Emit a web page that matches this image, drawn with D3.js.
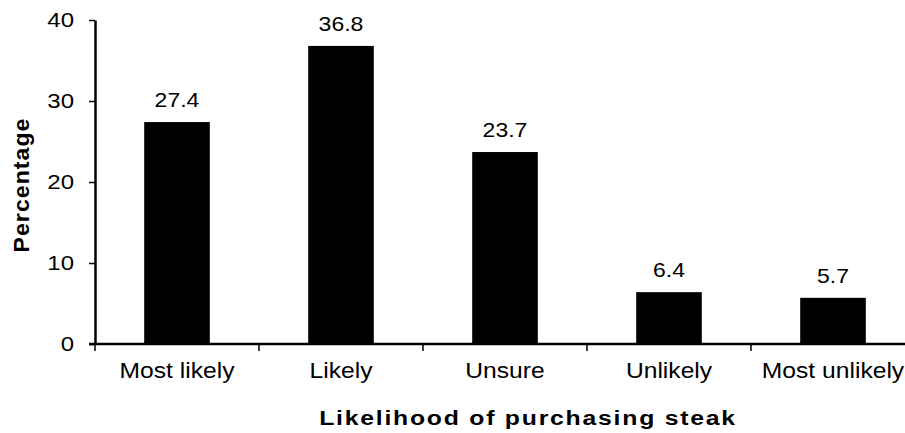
<!DOCTYPE html>
<html>
<head>
<meta charset="utf-8">
<script src="https://cdn.jsdelivr.net/npm/d3@7"></script>
<style>
  html, body { margin: 0; padding: 0; background: #fff; }
  svg { display: block; }
  text { font-family: "Liberation Sans", Arial, sans-serif; fill: #000; }
</style>
</head>
<body>
<svg id="chart" width="905" height="433"></svg>
<script>
const categories = ["Most likely", "Likely", "Unsure", "Unlikely", "Most unlikely"];
const values = [27.4, 36.8, 23.7, 6.4, 5.7];
const yTicks = [0, 10, 20, 30, 40];
const xTitle = "Likelihood of purchasing steak";
const yTitle = "Percentage";

(function () {
const svg = d3.select("#chart");
const mLeft = 95, mRight = 915, mTop = 20, mBottom = 344;

const x = d3.scaleBand().domain(categories).range([mLeft, mRight])
  .paddingInner(0.6).paddingOuter(0.3);
const y = d3.scaleLinear().domain([0, 40]).range([mBottom, mTop]);
const step = x.step();

// bars
svg.append("g").selectAll("rect").data(values).join("rect")
  .attr("x", (d, i) => x(categories[i]))
  .attr("y", d => y(d))
  .attr("width", x.bandwidth())
  .attr("height", d => y(0) - y(d))
  .attr("fill", "#000");

// value labels (glyphs slightly widened like the reference)
svg.append("g").selectAll("text").data(values).join("text")
  .attr("transform", (d, i) => `translate(${x(categories[i]) + x.bandwidth() / 2},${y(d) - 15}) scale(1.15,1)`)
  .attr("text-anchor", "middle")
  .style("font-size", "20px")
  .text(d => d.toFixed(1));

// y axis
const yAxis = d3.axisLeft(y).tickValues(yTicks).tickSize(6).tickPadding(15).tickSizeOuter(0);
const gy = svg.append("g").attr("transform", `translate(${mLeft},0)`).call(yAxis);
gy.select(".domain").attr("stroke", "#000").attr("stroke-width", 2.5);
gy.selectAll(".tick line").attr("stroke", "#000").attr("stroke-width", 1.5);
gy.selectAll(".tick text")
  .attr("transform", function () { return `translate(${d3.select(this).attr("x")},0) scale(1.2,1)`; })
  .attr("x", 0)
  .style("font-size", "20px")
  .style("font-family", "'Liberation Sans', Arial, sans-serif").attr("fill", "#000");

// x axis line
svg.append("line").attr("x1", mLeft - 6).attr("x2", 905).attr("y1", mBottom).attr("y2", mBottom)
  .attr("stroke", "#000").attr("stroke-width", 2.5);
// x ticks at band boundaries
const boundaries = categories.map(c => x(c) - step * x.paddingOuter());
svg.append("g").selectAll("line").data(boundaries).join("line")
  .attr("x1", d => d).attr("x2", d => d)
  .attr("y1", mBottom).attr("y2", mBottom + 7)
  .attr("stroke", "#000").attr("stroke-width", 1.5);
// category labels
svg.append("g").selectAll("text").data(categories).join("text")
  .attr("transform", c => `translate(${x(c) + x.bandwidth() / 2},378) scale(1.12,1)`)
  .attr("text-anchor", "middle")
  .style("font-size", "22px")
  .text(c => c);

// axis titles
const xt = svg.append("text")
  .attr("text-anchor", "middle")
  .style("font-size", "21px").style("font-weight", "bold").style("letter-spacing", "1.5px")
  .text(xTitle);
const xtLen = xt.node().getComputedTextLength();
xt.attr("transform", `translate(528,425) scale(${418 / xtLen},1)`);

svg.append("text")
  .attr("transform", "translate(29,185) rotate(-90) scale(1.05,1)")
  .attr("text-anchor", "middle")
  .style("font-size", "22px").style("font-weight", "bold").style("letter-spacing", "1px")
  .text(yTitle);
})();
</script>
</body>
</html>
